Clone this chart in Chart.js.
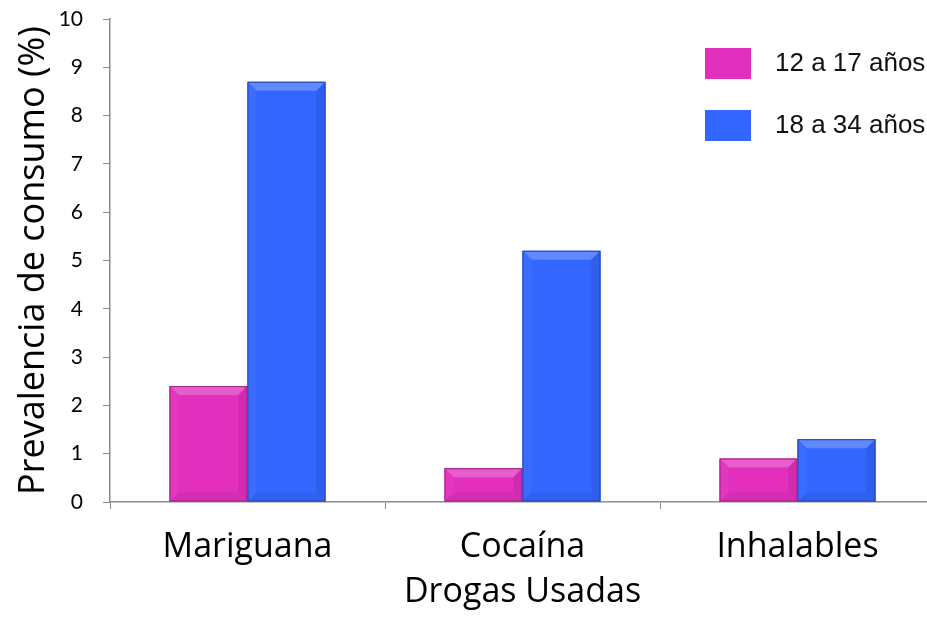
<!DOCTYPE html>
<html>
<head>
<meta charset="utf-8">
<script src="https://cdn.jsdelivr.net/npm/chart.js@4.4.1/dist/chart.umd.min.js"></script>
<style>
  html, body { margin: 0; padding: 0; background: #ffffff; overflow: hidden; }
  #wrap { position: relative; width: 945px; height: 617px; }
</style>
</head>
<body>
<div id="wrap"><canvas id="chart" width="945" height="617"></canvas></div>
<script>
// Drug-use prevalence by age group
const categories = ['Mariguana', 'Cocaína', 'Inhalables'];
const seriesNames = ['12 a 17 años', '18 a 34 años'];
const youthValues = [2.4, 0.7, 0.9];
const adultValues = [8.7, 5.2, 1.3];
const yTicks = [0, 1, 2, 3, 4, 5, 6, 7, 8, 9, 10];

const pink = '#e22fbd';
const blue = '#3366ff';

function shade(hex, amt) {
  const n = parseInt(hex.slice(1), 16);
  let r = (n >> 16) & 255, g = (n >> 8) & 255, b = n & 255;
  const f = (c) => Math.max(0, Math.min(255, Math.round(amt >= 0 ? c + (255 - c) * amt : c * (1 + amt))));
  return `rgb(${f(r)},${f(g)},${f(b)})`;
}

// Bevelled edges on each bar
const bevelPlugin = {
  id: 'bevel',
  afterDatasetsDraw(chart) {
    const ctx = chart.ctx;
    chart.data.datasets.forEach((ds, di) => {
      const meta = chart.getDatasetMeta(di);
      const col = ds.backgroundColor;
      meta.data.forEach((bar) => {
        const { x, y, base, width } = bar.getProps(['x', 'y', 'base', 'width'], true);
        const l = x - width / 2, r = x + width / 2, t = y, b = base;
        const d = Math.min(9, (b - t) / 2);
        ctx.save();
        // top bevel
        ctx.fillStyle = shade(col, 0.22);
        ctx.beginPath();
        ctx.moveTo(l, t); ctx.lineTo(r, t); ctx.lineTo(r - d, t + d); ctx.lineTo(l + d, t + d); ctx.closePath(); ctx.fill();
        // bottom bevel
        ctx.fillStyle = shade(col, -0.06);
        ctx.beginPath();
        ctx.moveTo(l, b); ctx.lineTo(r, b); ctx.lineTo(r - d, b - d); ctx.lineTo(l + d, b - d); ctx.closePath(); ctx.fill();
        // left bevel
        ctx.fillStyle = shade(col, 0.04);
        ctx.beginPath();
        ctx.moveTo(l, t); ctx.lineTo(l + d, t + d); ctx.lineTo(l + d, b - d); ctx.lineTo(l, b); ctx.closePath(); ctx.fill();
        // right bevel
        ctx.fillStyle = shade(col, -0.08);
        ctx.beginPath();
        ctx.moveTo(r, t); ctx.lineTo(r - d, t + d); ctx.lineTo(r - d, b - d); ctx.lineTo(r, b); ctx.closePath(); ctx.fill();
        // outline
        ctx.strokeStyle = shade(col, -0.3);
        ctx.lineWidth = 1;
        ctx.strokeRect(l + 0.5, t + 0.5, width - 1, b - t - 1);
        ctx.restore();
      });
    });
  }
};

// Legend box at upper right of the plot
const legendPlugin = {
  id: 'cornerLegend',
  afterDraw(chart) {
    const ctx = chart.ctx;
    ctx.save();
    ctx.font = '26px "Liberation Sans", Arial, sans-serif';
    ctx.textBaseline = 'middle';
    ctx.textAlign = 'left';
    chart.data.datasets.forEach((ds, i) => {
      const top = 48 + i * 62;
      ctx.fillStyle = ds.backgroundColor;
      ctx.fillRect(705, top, 46, 31);
      ctx.fillStyle = '#111111';
      ctx.fillText(ds.label, 775, top + 16);
    });
    ctx.restore();
  }
};

new Chart(document.getElementById('chart'), {
  type: 'bar',
  data: {
    labels: categories,
    datasets: [
      { label: seriesNames[0], data: youthValues, backgroundColor: pink, borderWidth: 0 },
      { label: seriesNames[1], data: adultValues, backgroundColor: blue, borderWidth: 0 }
    ]
  },
  options: {
    responsive: false,
    animation: false,
    devicePixelRatio: 1,
    layout: { padding: { top: 19, right: 10, left: 0, bottom: 0 } },
    datasets: { bar: { barPercentage: 1.0, categoryPercentage: 0.567 } },
    plugins: { legend: { display: false }, tooltip: { enabled: false } },
    scales: {
      x: {
        grid: { display: true, drawOnChartArea: false, offset: true, tickLength: 7, color: '#8c8c8c', lineWidth: 1 },
        border: { color: '#8c8c8c', width: 1.5 },
        ticks: { color: '#000', padding: 18, font: { family: '"Open Sans", sans-serif', size: 34 } },
        title: { display: true, text: 'Drogas Usadas', color: '#000', padding: { top: 0, bottom: 4 },
                 font: { family: '"Open Sans", sans-serif', size: 34 } },
        afterFit(scale) { scale.height = 115; }
      },
      y: {
        min: 0, max: 10,
        afterBuildTicks(scale) { scale.ticks = yTicks.map(v => ({ value: v })); },
        grid: { display: true, drawOnChartArea: false, tickLength: 7, color: '#8c8c8c' },
        border: { color: '#8c8c8c', width: 1.5 },
        ticks: { color: '#000', padding: 20, font: { family: 'Lato, "Open Sans", sans-serif', size: 21 } },
        title: { display: true, text: 'Prevalencia de consumo (%)', color: '#000', padding: { top: 12, bottom: 0 },
                 font: { family: '"Open Sans", sans-serif', size: 36 } },
        afterFit(scale) { scale.width = 110; scale.paddingTop = 0; scale.paddingBottom = 0; }
      }
    }
  },
  plugins: [bevelPlugin, legendPlugin]
});
</script>
</body>
</html>
